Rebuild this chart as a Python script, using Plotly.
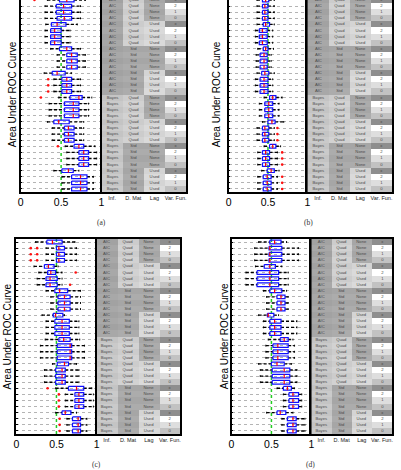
import plotly.graph_objects as go

W, H = 401, 470

# ---------------- categories / labels ----------------
INF = ["AIC", "Bayes"]
DMAT = ["Quad", "Std"]
LAG = ["None", "Used"]
VARFUN = ["x", "2", "1", "0"]
COLUMNS = ["Inf.", "D. Mat", "Lag", "Var. Fun."]
XTICKS = [0, 0.5, 1]
XTICKTEXT = ["0", "0.5", "1"]
CHANCE = 0.5
YTITLE = "Area Under ROC Curve"
CAPTIONS = ["(a)", "(b)", "(c)", "(d)"]

ROWS = [(i, d, l, v) for i in INF for d in DMAT for l in LAG for v in VARFUN]

# ---------------- panel (a) ----------------
A_Q1 = [0.48, 0.44, 0.44, 0.45, 0.38, 0.37, 0.37, 0.37, 0.48, 0.57, 0.57, 0.57, 0.39, 0.51, 0.51, 0.51,
        0.61, 0.54, 0.54, 0.54, 0.41, 0.54, 0.54, 0.54, 0.66, 0.72, 0.72, 0.72, 0.51, 0.63, 0.63, 0.63]
A_MED = [0.57, 0.53, 0.53, 0.54, 0.45, 0.42, 0.42, 0.42, 0.57, 0.63, 0.63, 0.63, 0.45, 0.57, 0.57, 0.57,
         0.72, 0.65, 0.65, 0.65, 0.47, 0.59, 0.59, 0.59, 0.72, 0.78, 0.78, 0.78, 0.59, 0.74, 0.74, 0.74]
A_Q3 = [0.66, 0.63, 0.63, 0.63, 0.56, 0.50, 0.50, 0.50, 0.63, 0.70, 0.70, 0.70, 0.55, 0.63, 0.63, 0.63,
        0.76, 0.72, 0.72, 0.72, 0.60, 0.66, 0.66, 0.66, 0.78, 0.84, 0.84, 0.84, 0.65, 0.82, 0.82, 0.82]
A_LO = [0.33, 0.30, 0.30, 0.30, 0.31, 0.30, 0.30, 0.30, 0.37, 0.45, 0.45, 0.45, 0.29, 0.41, 0.41, 0.41,
        0.47, 0.35, 0.35, 0.35, 0.33, 0.39, 0.39, 0.39, 0.55, 0.57, 0.57, 0.57, 0.41, 0.51, 0.51, 0.51]
A_HI = [0.80, 0.74, 0.74, 0.74, 0.70, 0.61, 0.61, 0.61, 0.74, 0.80, 0.80, 0.80, 0.63, 0.74, 0.74, 0.74,
        0.88, 0.84, 0.84, 0.84, 0.78, 0.78, 0.78, 0.78, 0.92, 0.94, 0.94, 0.94, 0.72, 0.90, 0.90, 0.90]
A_OUT_ROW = [0, 13, 14, 15, 16, 24]
A_OUT_VAL = [0.17, 0.34, 0.34, 0.34, 0.25, 0.46]

# ---------------- panel (b) ----------------
B_Q1 = [0.43, 0.43, 0.43, 0.43, 0.44, 0.39, 0.39, 0.39, 0.44, 0.40, 0.40, 0.40, 0.42, 0.40, 0.40, 0.40,
        0.52, 0.46, 0.46, 0.46, 0.50, 0.43, 0.43, 0.43, 0.52, 0.43, 0.43, 0.43, 0.49, 0.44, 0.44, 0.44]
B_MED = [0.47, 0.46, 0.46, 0.46, 0.47, 0.43, 0.43, 0.43, 0.47, 0.45, 0.45, 0.45, 0.46, 0.45, 0.45, 0.45,
         0.56, 0.51, 0.51, 0.51, 0.55, 0.46, 0.46, 0.46, 0.56, 0.47, 0.47, 0.47, 0.54, 0.49, 0.49, 0.49]
B_Q3 = [0.51, 0.50, 0.50, 0.50, 0.52, 0.49, 0.49, 0.49, 0.50, 0.49, 0.49, 0.49, 0.51, 0.50, 0.50, 0.50,
        0.60, 0.56, 0.56, 0.56, 0.59, 0.51, 0.51, 0.51, 0.60, 0.52, 0.52, 0.52, 0.58, 0.54, 0.54, 0.54]
B_LO = [0.36, 0.36, 0.36, 0.36, 0.36, 0.34, 0.34, 0.34, 0.37, 0.35, 0.35, 0.35, 0.36, 0.34, 0.34, 0.34,
        0.45, 0.39, 0.39, 0.39, 0.43, 0.36, 0.36, 0.36, 0.45, 0.37, 0.37, 0.37, 0.42, 0.37, 0.37, 0.37]
B_HI = [0.58, 0.58, 0.58, 0.58, 0.58, 0.56, 0.56, 0.56, 0.57, 0.54, 0.54, 0.54, 0.58, 0.56, 0.56, 0.56,
        0.68, 0.64, 0.64, 0.64, 0.70, 0.58, 0.58, 0.58, 0.66, 0.62, 0.62, 0.62, 0.64, 0.62, 0.62, 0.62]
B_OUT_ROW = [21, 22, 23, 25, 26, 27, 29, 30, 31]
B_OUT_VAL = [0.62, 0.62, 0.62, 0.68, 0.68, 0.68, 0.68, 0.68, 0.68]

# ---------------- panel (c) ----------------
C_Q1 = [0.38, 0.50, 0.50, 0.50, 0.35, 0.39, 0.37, 0.37, 0.48, 0.52, 0.52, 0.52, 0.46, 0.48, 0.48, 0.48,
        0.53, 0.51, 0.51, 0.51, 0.51, 0.49, 0.49, 0.49, 0.65, 0.73, 0.73, 0.73, 0.57, 0.70, 0.70, 0.70]
C_MED = [0.45, 0.53, 0.53, 0.53, 0.40, 0.43, 0.42, 0.42, 0.54, 0.60, 0.60, 0.60, 0.49, 0.57, 0.57, 0.57,
         0.59, 0.67, 0.67, 0.67, 0.60, 0.57, 0.57, 0.57, 0.75, 0.78, 0.78, 0.78, 0.61, 0.77, 0.77, 0.77]
C_Q3 = [0.57, 0.60, 0.60, 0.60, 0.47, 0.49, 0.51, 0.51, 0.64, 0.67, 0.67, 0.67, 0.58, 0.66, 0.66, 0.66,
        0.67, 0.69, 0.69, 0.69, 0.65, 0.61, 0.61, 0.61, 0.84, 0.84, 0.84, 0.84, 0.68, 0.80, 0.80, 0.80]
C_LO = [0.24, 0.37, 0.37, 0.37, 0.22, 0.28, 0.26, 0.26, 0.37, 0.43, 0.43, 0.43, 0.32, 0.37, 0.37, 0.37,
        0.36, 0.30, 0.30, 0.30, 0.45, 0.35, 0.35, 0.35, 0.49, 0.61, 0.61, 0.61, 0.49, 0.63, 0.63, 0.63]
C_HI = [0.73, 0.75, 0.75, 0.75, 0.52, 0.57, 0.57, 0.57, 0.80, 0.80, 0.80, 0.80, 0.60, 0.78, 0.78, 0.78,
        0.79, 0.85, 0.85, 0.85, 0.75, 0.78, 0.78, 0.78, 0.94, 0.96, 0.96, 0.96, 0.75, 0.88, 0.88, 0.88]
C_OUT_ROW = [1, 1, 2, 2, 3, 3, 5, 7, 24, 25, 26, 27, 29, 30, 31]
C_OUT_VAL = [0.18, 0.26, 0.18, 0.26, 0.18, 0.26, 0.74, 0.67, 0.39, 0.53, 0.53, 0.53, 0.54, 0.54, 0.54]

# ---------------- panel (d) ----------------
D_Q1 = [0.48, 0.47, 0.47, 0.47, 0.41, 0.32, 0.32, 0.32, 0.48, 0.57, 0.57, 0.57, 0.45, 0.48, 0.48, 0.48,
        0.61, 0.52, 0.52, 0.52, 0.50, 0.51, 0.51, 0.51, 0.65, 0.72, 0.72, 0.72, 0.57, 0.70, 0.70, 0.70]
D_MED = [0.54, 0.48, 0.48, 0.48, 0.48, 0.48, 0.48, 0.48, 0.54, 0.62, 0.62, 0.62, 0.46, 0.54, 0.54, 0.54,
         0.66, 0.58, 0.58, 0.58, 0.57, 0.66, 0.66, 0.66, 0.70, 0.77, 0.77, 0.77, 0.61, 0.77, 0.77, 0.77]
D_Q3 = [0.62, 0.63, 0.63, 0.63, 0.55, 0.59, 0.59, 0.59, 0.63, 0.67, 0.67, 0.67, 0.53, 0.62, 0.62, 0.62,
        0.71, 0.71, 0.71, 0.71, 0.66, 0.73, 0.73, 0.73, 0.75, 0.84, 0.84, 0.84, 0.68, 0.81, 0.81, 0.81]
D_LO = [0.34, 0.29, 0.29, 0.29, 0.30, 0.18, 0.18, 0.18, 0.40, 0.44, 0.44, 0.44, 0.34, 0.40, 0.40, 0.40,
        0.46, 0.43, 0.43, 0.43, 0.34, 0.36, 0.36, 0.36, 0.57, 0.65, 0.65, 0.65, 0.44, 0.63, 0.63, 0.63]
D_HI = [0.69, 0.84, 0.84, 0.84, 0.63, 0.71, 0.71, 0.71, 0.69, 0.71, 0.71, 0.71, 0.59, 0.82, 0.82, 0.82,
        0.77, 0.79, 0.79, 0.79, 0.75, 0.82, 0.82, 0.82, 0.79, 0.88, 0.88, 0.88, 0.77, 0.92, 0.92, 0.92]
D_OUT_ROW = []
D_OUT_VAL = []

PANELS = [
    (A_Q1, A_MED, A_Q3, A_LO, A_HI, A_OUT_ROW, A_OUT_VAL),
    (B_Q1, B_MED, B_Q3, B_LO, B_HI, B_OUT_ROW, B_OUT_VAL),
    (C_Q1, C_MED, C_Q3, C_LO, C_HI, C_OUT_ROW, C_OUT_VAL),
    (D_Q1, D_MED, D_Q3, D_LO, D_HI, D_OUT_ROW, D_OUT_VAL),
]

# ---------------- styling / geometry (pixels) ----------------
SHADE = [
    {"AIC": 162, "Bayes": 196},
    {"Quad": 204, "Std": 166},
    {"None": 166, "Used": 212},
    {"x": 142, "2": 255, "1": 222, "0": 188},
]
GEOM = [
    dict(px=(18, 100), tx=(100, 186), py=(0, 192), yr=[31.5, -0.008], top=True, tcx=10, tcy=94.5, cap=(100, 223)),
    dict(px=(229, 309), tx=(309, 395), py=(0, 192), yr=[31.5, -0.008], top=True, tcx=217, tcy=94.5, cap=(310, 223)),
    dict(px=(13.5, 95), tx=(95, 180), py=(239, 434), yr=[31.5, -0.5], top=False, tcx=5, tcy=336.5, cap=(95, 464)),
    dict(px=(232, 313), tx=(313, 395), py=(239, 434), yr=[31.5, -0.5], top=False, tcx=225, tcy=336.5, cap=(312, 464)),
]
BOX_H = 0.3
CAP_H = 0.15
SANS = "Arial, Liberation Sans, DejaVu Sans, sans-serif"

fig = go.Figure()
layout = dict(width=W, height=H, margin=dict(l=0, r=0, t=0, b=0),
              paper_bgcolor="white", plot_bgcolor="white", showlegend=False,
              annotations=[])

def xd(a, b):
    return [a / W, b / W]

def yd(a, b):
    return [1 - b / H, 1 - a / H]

for k, (q1, med, q3, lo, hi, orow, oval) in enumerate(PANELS):
    g = GEOM[k]
    bx, tx = 2 * k + 1, 2 * k + 2
    bxs, txs = ("" if bx == 1 else str(bx)), str(tx)
    nrow = len(ROWS)

    fig.add_trace(go.Scatter(x=[CHANCE, CHANCE], y=[-0.5, nrow - 0.5], mode="lines",
                             line=dict(color="#22cc22", width=1.5, dash="dot"),
                             xaxis="x" + bxs, yaxis="y" + bxs, hoverinfo="skip"))
    wx, wy, cx, cy, bxx, byy, mx, my = [], [], [], [], [], [], [], []
    for i in range(nrow):
        wx += [lo[i], q1[i], None, q3[i], hi[i], None]
        wy += [i, i, None, i, i, None]
        cx += [lo[i], lo[i], None, hi[i], hi[i], None]
        cy += [i - CAP_H, i + CAP_H, None, i - CAP_H, i + CAP_H, None]
        bxx += [q1[i], q3[i], q3[i], q1[i], q1[i], None]
        byy += [i - BOX_H, i - BOX_H, i + BOX_H, i + BOX_H, i - BOX_H, None]
        mx += [med[i], med[i], None]
        my += [i - BOX_H, i + BOX_H, None]
    fig.add_trace(go.Scatter(x=wx, y=wy, mode="lines", line=dict(color="black", width=1.4, dash="3px,2px"),
                             xaxis="x" + bxs, yaxis="y" + bxs, hoverinfo="skip"))
    fig.add_trace(go.Scatter(x=cx, y=cy, mode="lines", line=dict(color="black", width=1),
                             xaxis="x" + bxs, yaxis="y" + bxs, hoverinfo="skip"))
    fig.add_trace(go.Scatter(x=bxx, y=byy, mode="lines", line=dict(color="#1010ff", width=1.2),
                             xaxis="x" + bxs, yaxis="y" + bxs, hoverinfo="skip"))
    fig.add_trace(go.Scatter(x=mx, y=my, mode="lines", line=dict(color="#ff0000", width=1.2),
                             xaxis="x" + bxs, yaxis="y" + bxs, hoverinfo="skip"))
    if orow:
        fig.add_trace(go.Scatter(x=oval, y=orow, mode="markers",
                                 marker=dict(symbol="circle", size=2.6, color="#ff1010", line=dict(width=0)),
                                 xaxis="x" + bxs, yaxis="y" + bxs, hoverinfo="skip"))

    z, txt = [], []
    for r, row in enumerate(ROWS):
        z.append([SHADE[c][row[c]] + (6 if r % 2 else 0) for c in range(4)])
        txt.append(list(row))
    fig.add_trace(go.Heatmap(z=z, x=[0, 1, 2, 3], y=list(range(nrow)), text=txt, texttemplate="%{text}",
                             textfont=dict(size=4.2, color="#4a4a4a", family=SANS),
                             colorscale=[[0, "black"], [1, "white"]], zmin=0, zmax=255, showscale=False,
                             xaxis="x" + txs, yaxis="y" + txs, hoverinfo="skip"))

    mirror_x = False if g["top"] else True
    layout["xaxis" + bxs] = dict(domain=xd(*g["px"]), anchor="y" + bxs, range=[0, 1],
                                 tickvals=XTICKS, ticktext=XTICKTEXT, ticks="",
                                 tickfont=dict(size=10.5, color="black", family=SANS),
                                 showline=True, linecolor="black", linewidth=1.5, mirror=mirror_x,
                                 showgrid=False, zeroline=False)
    layout["yaxis" + bxs] = dict(domain=yd(*g["py"]), anchor="x" + bxs, range=g["yr"],
                                 tickvals=list(range(nrow)), showticklabels=False,
                                 ticks="inside", ticklen=2, tickcolor="black", tickwidth=1,
                                 showgrid=True, gridcolor="#b4b4b4", griddash="dot", gridwidth=1,
                                 showline=True, linecolor="black", linewidth=1.5, mirror="ticks",
                                 zeroline=False)
    layout["xaxis" + txs] = dict(domain=xd(*g["tx"]), anchor="y" + txs, range=[-0.5, 3.5],
                                 tickvals=[0, 1, 2, 3], ticktext=COLUMNS, ticks="",
                                 tickfont=dict(size=5.5, color="#222", family=SANS),
                                 showline=True, linecolor="black", linewidth=1.5, mirror=mirror_x,
                                 showgrid=False, zeroline=False)
    layout["yaxis" + txs] = dict(domain=yd(*g["py"]), anchor="x" + txs, range=g["yr"],
                                 showticklabels=False, ticks="", showgrid=False, zeroline=False,
                                 showline=True, linecolor="black", linewidth=1.5, mirror=True)

    layout["annotations"].append(dict(text=YTITLE, textangle=-90, x=g["tcx"] / W, y=1 - g["tcy"] / H,
                                      xref="paper", yref="paper", showarrow=False,
                                      xanchor="center", yanchor="middle",
                                      font=dict(size=10, color="black", family=SANS)))
    layout["annotations"].append(dict(text=CAPTIONS[k], x=g["cap"][0] / W, y=1 - g["cap"][1] / H,
                                      xref="paper", yref="paper", showarrow=False,
                                      xanchor="center", yanchor="middle",
                                      font=dict(size=7.5, color="#333", family="Liberation Serif")))

fig.update_layout(**layout)
fig.write_html("out.html")
